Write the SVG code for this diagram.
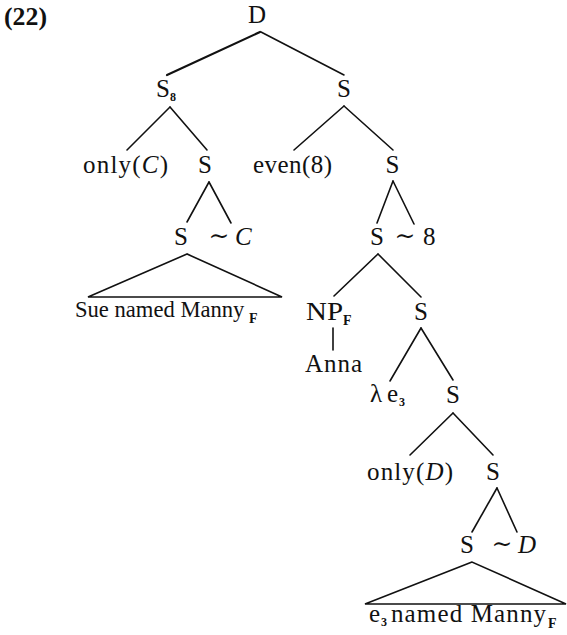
<svg xmlns="http://www.w3.org/2000/svg" width="567" height="635" viewBox="0 0 567 635">
<style>
text{font-family:"Liberation Serif","DejaVu Serif",serif;font-size:25px;fill:#111}
.m{text-anchor:middle}
.i{font-style:italic}
.sub{font-size:12px;font-weight:bold}
.subF{font-size:14px;font-weight:bold}
.til{font-family:"DejaVu Serif",serif;font-size:25px}
#edges line,#edges polygon{stroke:#111;stroke-width:1.6;fill:none;stroke-linecap:round}
</style>
<rect width="567" height="635" fill="#fff"/>
<text x="4" y="25" font-weight="bold" textLength="43" lengthAdjust="spacingAndGlyphs">(22)</text>
<g id="edges">
<line x1="260" y1="32" x2="167" y2="75" style="stroke-width:2.2"/>
<line x1="261" y1="32" x2="344" y2="75"/>
<line x1="170" y1="107" x2="127" y2="150"/>
<line x1="170" y1="107" x2="207" y2="150"/>
<line x1="344" y1="106" x2="294" y2="150"/>
<line x1="344" y1="106" x2="393" y2="150"/>
<line x1="209" y1="182" x2="187" y2="222"/>
<line x1="209" y1="182" x2="231" y2="223"/>
<line x1="393" y1="181" x2="377" y2="223"/>
<line x1="393" y1="181" x2="414" y2="224"/>
<polygon points="187,254 88,297 282,297"/>
<line x1="378" y1="254" x2="334" y2="296"/>
<line x1="378" y1="254" x2="421" y2="297"/>
<line x1="333" y1="328" x2="333" y2="350"/>
<line x1="421" y1="328" x2="390" y2="381"/>
<line x1="421" y1="328" x2="453" y2="380"/>
<line x1="453" y1="413" x2="410" y2="455"/>
<line x1="453" y1="413" x2="493" y2="455"/>
<line x1="497" y1="488" x2="472" y2="532"/>
<line x1="497" y1="488" x2="517" y2="532"/>
<polygon points="472,562 365,604 566,604"/>
</g>
<g id="n-D"><text class="m" x="257" y="23">D</text></g>
<g id="n-S8"><text class="m" x="163" y="97">S</text><text class="sub" x="170" y="101">8</text></g>
<g id="n-S-top-right"><text class="m" x="344" y="97">S</text></g>
<g id="n-onlyC"><text x="83" y="173" textLength="85" lengthAdjust="spacing">only(<tspan class="i">C</tspan>)</text></g>
<g id="n-S-left"><text class="m" x="205" y="173">S</text></g>
<g id="n-even8"><text x="253" y="173" textLength="79" lengthAdjust="spacing">even(8)</text></g>
<g id="n-S-right"><text class="m" x="392.5" y="173">S</text></g>
<g id="n-S-tildeC"><text class="m" x="181" y="245">S</text><text class="m til" x="219" y="244">∼</text><text class="i" x="235" y="245">C</text></g>
<g id="n-S-tilde8"><text class="m" x="377" y="245">S</text><text class="m til" x="405" y="244">∼</text><text x="423" y="245">8</text></g>
<g id="n-Sue"><text x="75" y="317" style="font-size:22.6px">Sue named Manny</text><text class="subF" x="249" y="323">F</text></g>
<g id="n-NP"><text x="306" y="320" textLength="37" lengthAdjust="spacingAndGlyphs">NP</text><text class="subF" x="343" y="325">F</text></g>
<g id="n-S-mid"><text class="m" x="421" y="320">S</text></g>
<g id="n-Anna"><text x="305" y="372" textLength="57" lengthAdjust="spacing">Anna</text></g>
<g id="n-lambda"><text x="370" y="402">λ</text><text x="387" y="402">e</text><text class="sub" x="399" y="406">3</text></g>
<g id="n-S-lower"><text class="m" x="453" y="403">S</text></g>
<g id="n-onlyD"><text x="367" y="480" textLength="86" lengthAdjust="spacing">only(<tspan class="i">D</tspan>)</text></g>
<g id="n-S-low2"><text class="m" x="493" y="480">S</text></g>
<g id="n-S-tildeD"><text class="m" x="467" y="553">S</text><text class="m til" x="502" y="552">∼</text><text class="i" x="518" y="553">D</text></g>
<g id="n-e3"><text x="369" y="622">e</text><text class="sub" x="381" y="626">3</text><text x="391" y="622" textLength="155" lengthAdjust="spacing">named Manny</text><text class="subF" x="548" y="628">F</text></g>
</svg>
